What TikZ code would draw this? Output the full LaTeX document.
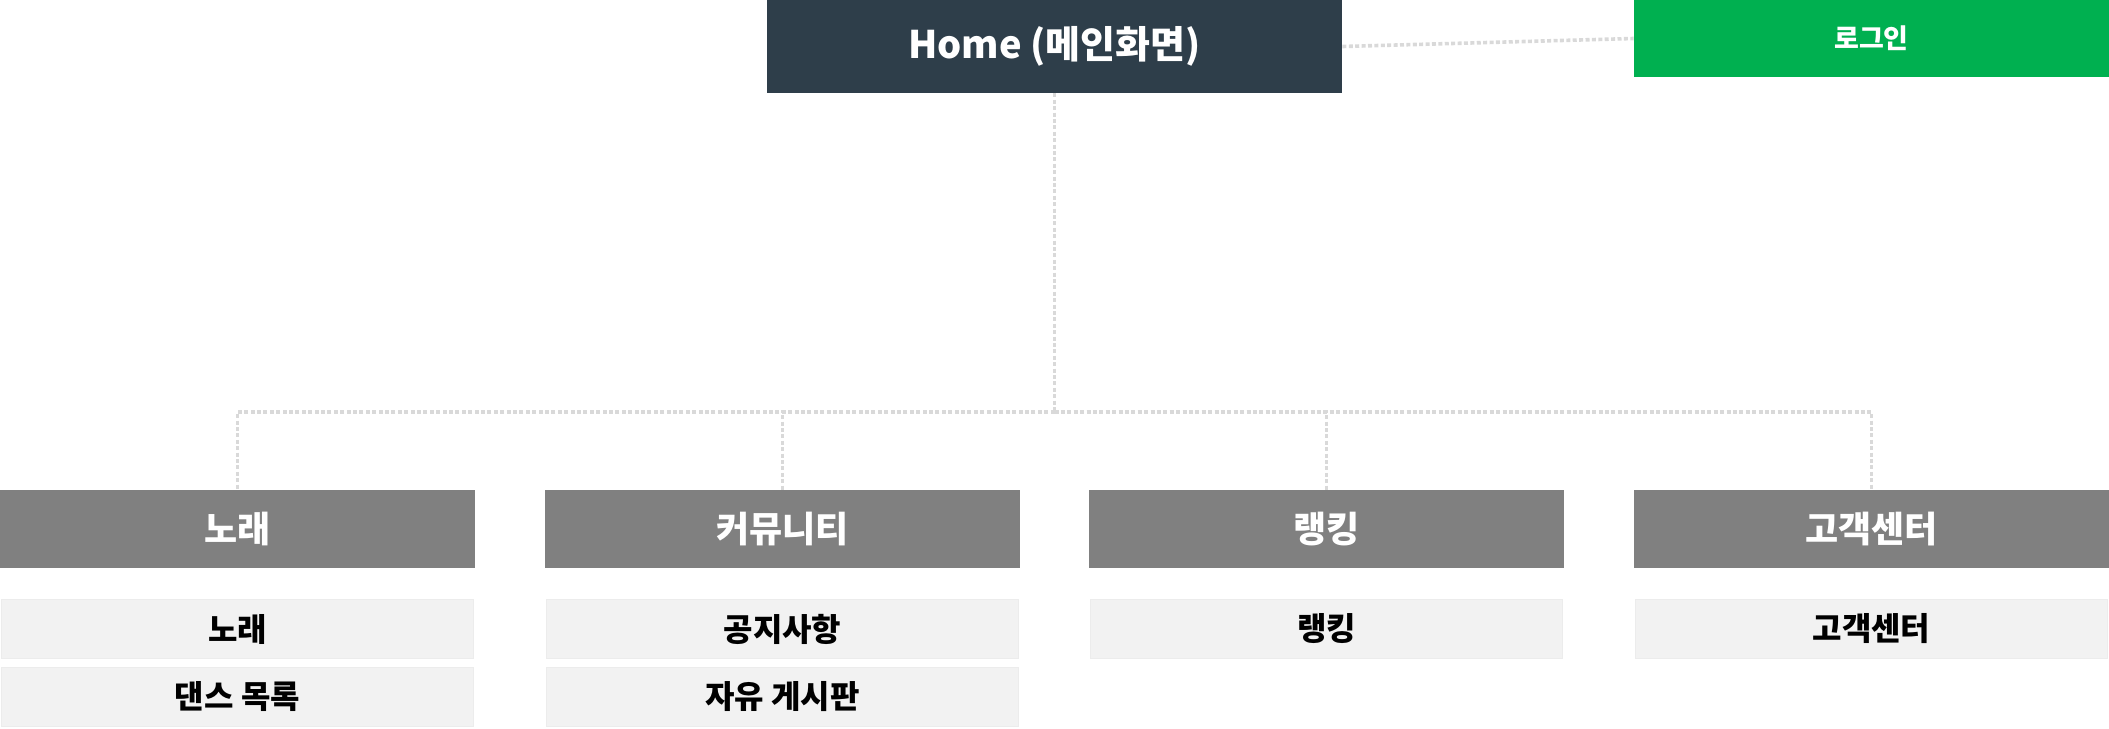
\documentclass[tikz,border=0pt]{standalone}
\usepackage{fontspec}
\setmainfont{Noto Sans CJK KR}
\usetikzlibrary{positioning}
\definecolor{homecol}{HTML}{2E3E4A}
\definecolor{logincol}{HTML}{00B050}
\definecolor{catcol}{HTML}{808080}
\definecolor{subcol}{HTML}{F2F2F2}
\definecolor{subline}{HTML}{ECECEC}
\definecolor{dotcol}{HTML}{D9D9D9}
\begin{document}
\begin{tikzpicture}[x=0.5pt,y=-0.5pt]
\tikzstyle{box}=[rectangle, inner sep=0pt, font=\bfseries]
\tikzstyle{homebox}=[box, fill=homecol, text=white, minimum width=287.5pt, minimum height=46.5pt, font=\bfseries\fontsize{19}{22}\selectfont]
\tikzstyle{loginbox}=[box, fill=logincol, text=white, minimum width=237.5pt, minimum height=38.5pt, font=\bfseries\fontsize{13.5}{16}\selectfont]
\tikzstyle{catbox}=[box, fill=catcol, text=white, minimum width=237.5pt, minimum height=39pt, font=\bfseries\fontsize{18}{21}\selectfont]
\tikzstyle{subbox}=[box, fill=subcol, draw=subline, line width=0.6pt, text=black, minimum width=236pt, minimum height=29.5pt, font=\bfseries\fontsize{16}{19}\selectfont]
\tikzstyle{link}=[dotcol, line width=1.8pt, dash pattern=on 2pt off 1.2pt]

\useasboundingbox (0,0) rectangle (2109,728);

\node[homebox] (home) at (1054.5,46.5) {Home (메인화면)};
\node[loginbox] (login) at (1871.5,38.5) {로그인};

\node[catbox] (song) at (237.5,529) {노래};
\node[catbox] (comm) at (782.5,529) {커뮤니티};
\node[catbox] (rank) at (1326.5,529) {랭킹};
\node[catbox] (help) at (1871.5,529) {고객센터};

\node[subbox] (songA) at (237.5,629) {노래};
\node[subbox] (songB) at (237.5,697) {댄스 목록};
\node[subbox] (commA) at (782.5,629) {공지사항};
\node[subbox] (commB) at (782.5,697) {자유 게시판};
\node[subbox] (rankA) at (1326.5,629) {랭킹};
\node[subbox] (helpA) at (1871.5,629) {고객센터};

\coordinate (hub) at (1054.5,412);
\draw[link] (home.east) -- (login.west);
\draw[link] (home.south) -- (hub);
\foreach \j in {song,comm,rank,help}{\draw[link] (hub) -| (\j.north);}
\end{tikzpicture}
\end{document}
